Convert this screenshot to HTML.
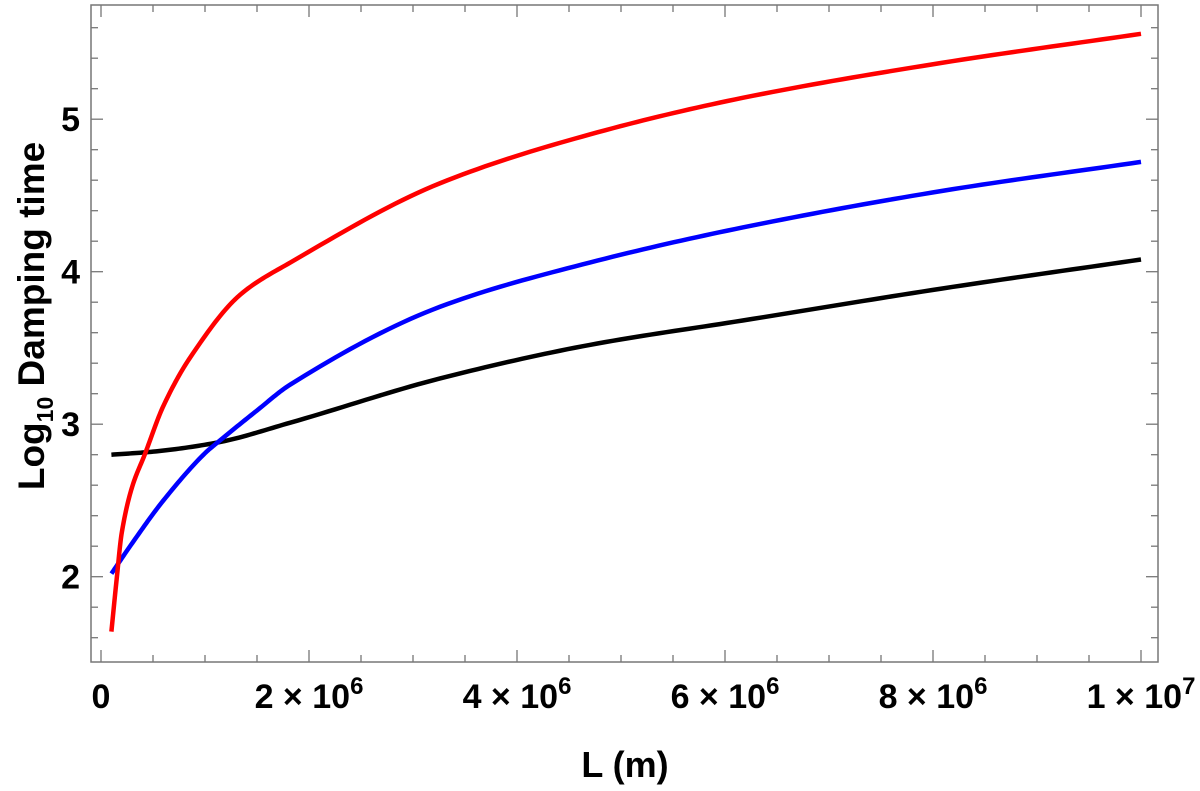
<!DOCTYPE html>
<html><head><meta charset="utf-8"><style>
body{margin:0;background:#fff}
svg text{font-family:"Liberation Sans",sans-serif;font-weight:bold}
</style></head><body>
<svg id="chart" width="1200" height="786" viewBox="0 0 1200 786" xmlns="http://www.w3.org/2000/svg">
<g id="ticks"></g>
<g id="series"></g>
<rect x="91" y="5" width="1067" height="657" fill="none" stroke="#777" stroke-width="1.5"/>
<g id="labels"></g>
<text x="625" y="777" font-size="36" text-anchor="middle">L (m)</text>
<text transform="translate(44,316) rotate(-90)" font-size="37" text-anchor="middle">Log<tspan font-size="23" dy="9">10</tspan><tspan dy="-9"> Damping time</tspan></text>
</svg>
<script>
const redL=[0.1,0.15,0.2,0.3,0.42,0.6,0.86,1.34,1.82,3.26,4.70,6.17,8.09,10];
const redY=[1.64,1.98,2.29,2.59,2.8,3.12,3.44,3.85,4.06,4.58,4.90,5.14,5.37,5.56];
const blueL=[0.1,0.3,0.6,1.0,1.12,1.5,1.82,3.26,4.70,6.17,8.09,10];
const blueY=[2.02,2.22,2.5,2.81,2.88,3.09,3.26,3.77,4.06,4.29,4.53,4.72];
const blackL=[0.1,0.5,1.12,1.82,3.26,4.70,6.17,8.09,10];
const blackY=[2.80,2.82,2.88,3.01,3.30,3.52,3.68,3.89,4.08];
const xTicks=[0,2,4,6,8,10];
const xTickMant=["","2","4","6","8","1"];
const xTickExp=["","6","6","6","6","7"];
const yTicks=[2,3,4,5];
const yTickLabels=["2","3","4","5"];
const X=v=>101+104*v, Y=v=>576.7-152.5*(v-2);
const NS="http://www.w3.org/2000/svg";
function mk(t,a,p){const e=document.createElementNS(NS,t);for(const k in a)e.setAttribute(k,a[k]);p.appendChild(e);return e;}
function mono(xs,ys){const n=xs.length,d=[],m=[];for(let i=0;i<n-1;i++)d.push((ys[i+1]-ys[i])/(xs[i+1]-xs[i]));
m[0]=d[0];m[n-1]=d[n-2];for(let i=1;i<n-1;i++)m[i]=d[i-1]*d[i]<=0?0:(2/(1/d[i-1]+1/d[i]));
let s="M"+X(xs[0]).toFixed(2)+","+Y(ys[0]).toFixed(2);
for(let i=0;i<n-1;i++){const h=xs[i+1]-xs[i];for(let k=1;k<=20;k++){const t=k/20,t2=t*t,t3=t2*t;
const v=(2*t3-3*t2+1)*ys[i]+(t3-2*t2+t)*h*m[i]+(-2*t3+3*t2)*ys[i+1]+(t3-t2)*h*m[i+1];
s+="L"+X(xs[i]+t*h).toFixed(2)+","+Y(v).toFixed(2);}}return s;}
const tg=document.getElementById('ticks'),lg=document.getElementById('labels'),sg=document.getElementById('series');
for(let v=0;v<=10.01;v+=0.5){const maj=Math.abs(v-Math.round(v/2)*2)<1e-6;const len=maj?12:7;
const t1=mk('line',{x1:X(v),x2:X(v),y1:662,y2:662-len,stroke:'#777','stroke-width':1.3},tg);

const t2=mk('line',{x1:X(v),x2:X(v),y1:5,y2:5+len,stroke:'#777','stroke-width':1.3},tg);
}
for(let v=1.6;v<=5.71;v+=0.2){const maj=Math.abs(v-Math.round(v))<1e-6;const len=maj?12:7;
const t1=mk('line',{x1:91,x2:91+len,y1:Y(v),y2:Y(v),stroke:'#777','stroke-width':1.3},tg);

const t2=mk('line',{x1:1158,x2:1158-len,y1:Y(v),y2:Y(v),stroke:'#777','stroke-width':1.3},tg);
}
xTicks.forEach((v,i)=>{const t=mk('text',{x:X(v),y:708,'font-size':34,'text-anchor':'middle'},lg);
if(!xTickMant[i]){t.textContent="0";}else{
t.textContent=xTickMant[i]+" \u00d7 10";
const s=mk('tspan',{dy:-14,'font-size':24},t);s.textContent=xTickExp[i];}
});
yTicks.forEach((v,i)=>{const t=mk('text',{x:80,y:Y(v)+12,'font-size':34,'text-anchor':'end'},lg);t.textContent=yTickLabels[i];
});
[[blackL,blackY,'#000','black-curve'],[blueL,blueY,'#00f','blue-curve'],[redL,redY,'#f00','red-curve']].forEach(([xs,ys,c,n])=>{
const p=mk('path',{d:mono(xs,ys),fill:'none',stroke:c,'stroke-width':4.5,'stroke-linejoin':'round'},sg);
});
</script>
</body></html>
